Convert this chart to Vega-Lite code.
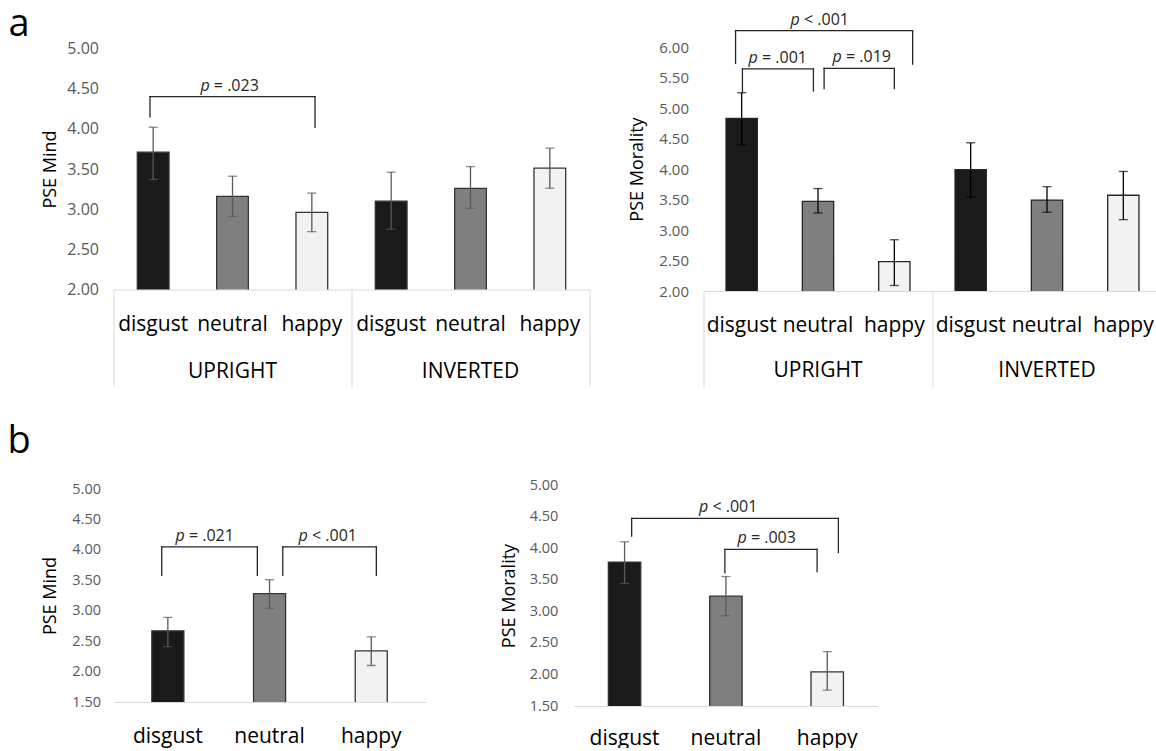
{
  "$schema": "https://vega.github.io/schema/vega-lite/v6.json",
  "padding": {"left": 7.5, "top": 5, "right": 0, "bottom": 0},
  "config": {
    "view": {"stroke": null},
    "font": "Open Sans",
    "axis": {"grid": false, "labelFont": "Open Sans", "titleFont": "Open Sans"},
    "axisY": {"labelOverlap": false}
  },
  "bounds": "flush",
  "spacing": 438,
  "datasets": {
    "aMind": [
      {"orientation": "UPRIGHT", "emotion": "disgust", "cond": "UPRIGHT disgust", "pse": 3.71, "lo": 3.37, "hi": 4.02},
      {"orientation": "UPRIGHT", "emotion": "neutral", "cond": "UPRIGHT neutral", "pse": 3.16, "lo": 2.91, "hi": 3.41},
      {"orientation": "UPRIGHT", "emotion": "happy", "cond": "UPRIGHT happy", "pse": 2.96, "lo": 2.72, "hi": 3.20},
      {"orientation": "INVERTED", "emotion": "disgust", "cond": "INVERTED disgust", "pse": 3.10, "lo": 2.75, "hi": 3.46},
      {"orientation": "INVERTED", "emotion": "neutral", "cond": "INVERTED neutral", "pse": 3.26, "lo": 3.01, "hi": 3.53},
      {"orientation": "INVERTED", "emotion": "happy", "cond": "INVERTED happy", "pse": 3.51, "lo": 3.26, "hi": 3.76}
    ],
    "aMoral": [
      {"orientation": "UPRIGHT", "emotion": "disgust", "cond": "UPRIGHT disgust", "pse": 4.83, "lo": 4.40, "hi": 5.25},
      {"orientation": "UPRIGHT", "emotion": "neutral", "cond": "UPRIGHT neutral", "pse": 3.47, "lo": 3.28, "hi": 3.68},
      {"orientation": "UPRIGHT", "emotion": "happy", "cond": "UPRIGHT happy", "pse": 2.48, "lo": 2.09, "hi": 2.84},
      {"orientation": "INVERTED", "emotion": "disgust", "cond": "INVERTED disgust", "pse": 3.99, "lo": 3.54, "hi": 4.43},
      {"orientation": "INVERTED", "emotion": "neutral", "cond": "INVERTED neutral", "pse": 3.49, "lo": 3.29, "hi": 3.71},
      {"orientation": "INVERTED", "emotion": "happy", "cond": "INVERTED happy", "pse": 3.57, "lo": 3.17, "hi": 3.96}
    ],
    "bMind": [
      {"emotion": "disgust", "pse": 2.67, "lo": 2.41, "hi": 2.89},
      {"emotion": "neutral", "pse": 3.28, "lo": 3.04, "hi": 3.51},
      {"emotion": "happy", "pse": 2.34, "lo": 2.10, "hi": 2.57}
    ],
    "bMoral": [
      {"emotion": "disgust", "pse": 3.78, "lo": 3.44, "hi": 4.10},
      {"emotion": "neutral", "pse": 3.24, "lo": 2.93, "hi": 3.55},
      {"emotion": "happy", "pse": 2.04, "lo": 1.75, "hi": 2.36}
    ],
    "aMindBr": [
      {"xl": 0.96, "xr": 3.04, "ytop": 4.40, "yl": 4.15, "yr": 4.02, "xm": 1.96, "stat": "= .023"}
    ],
    "aMoralBr": [
      {"xl": 0.92, "xr": 3.24, "ytop": 6.27, "yl": 5.73, "yr": 5.72, "xm": 2.02, "stat": "< .001"},
      {"xl": 1.01, "xr": 1.94, "ytop": 5.64, "yl": 5.25, "yr": 5.28, "xm": 1.47, "stat": "= .001"},
      {"xl": 2.08, "xr": 3.00, "ytop": 5.65, "yl": 5.32, "yr": 5.32, "xm": 2.57, "stat": "= .019"}
    ],
    "bMindBr": [
      {"xl": 0.94, "xr": 1.88, "ytop": 4.05, "yl": 3.58, "yr": 3.58, "xm": 1.36, "stat": "= .021"},
      {"xl": 2.13, "xr": 3.05, "ytop": 4.05, "yl": 3.58, "yr": 3.58, "xm": 2.57, "stat": "< .001"}
    ],
    "bMoralBr": [
      {"xl": 1.07, "xr": 3.11, "ytop": 4.47, "yl": 4.19, "yr": 3.93, "xm": 2.02, "stat": "< .001"},
      {"xl": 1.99, "xr": 2.90, "ytop": 3.98, "yl": 3.61, "yr": 3.63, "xm": 2.40, "stat": "= .003"}
    ]
  },
  "vconcat": [
    {
      "bounds": "flush",
      "center": true,
      "spacing": 114,
      "hconcat": [
        {
          "width": 476,
          "height": 241,
          "title": {"text": "a", "anchor": "start", "frame": "group", "fontSize": 38, "fontWeight": "normal", "font": "Open Sans", "color": "#000000", "dx": -105, "dy": 5, "offset": 2},
          "resolve": {"scale": {"x": "independent"}},
          "layer": [
            {
              "data": {"name": "aMind"},
              "encoding": {
                "x": {"field": "cond", "type": "nominal", "sort": null, "scale": {"paddingInner": 0, "paddingOuter": 0},
                  "axis": {"title": null, "ticks": false, "domain": true, "domainColor": "#d9d9d9", "domainWidth": 1, "labelFontSize": 21, "labelColor": "#000000", "labelPadding": 35, "labelBaseline": "middle", "labelAngle": 0, "labelExpr": "split(datum.label, ' ')[1]"}}
              },
              "layer": [
                {
                  "mark": {"type": "bar", "width": {"band": 0.4}, "stroke": "#333333", "strokeWidth": 1.3, "clip": true},
                  "encoding": {
                    "y": {"field": "pse", "type": "quantitative", "scale": {"domain": [2, 5], "nice": false, "zero": false},
                      "axis": {"title": "PSE Mind", "values": [2, 2.5, 3, 3.5, 4, 4.5, 5], "tickCount": 20, "format": ".2f", "labelOverlap": false, "ticks": false, "domain": false, "labelFontSize": 16, "labelColor": "#595959", "labelPadding": 15, "titleFontSize": 18, "titleFontWeight": "normal", "titleColor": "#000000", "titlePadding": 7}},
                    "color": {"field": "emotion", "type": "nominal", "scale": {"domain": ["disgust", "neutral", "happy"], "range": ["#1a1a1a", "#7f7f7f", "#f2f2f2"]}, "legend": null}
                  }
                },
                {
                  "mark": {"type": "rule", "color": "#595959", "strokeWidth": 1.3},
                  "encoding": {"y": {"field": "lo", "type": "quantitative", "scale": {"domain": [2, 5], "nice": false, "zero": false}}, "y2": {"field": "hi"}}
                },
                {
                  "mark": {"type": "tick", "color": "#595959", "size": 9, "thickness": 1.3},
                  "encoding": {"y": {"field": "lo", "type": "quantitative", "scale": {"domain": [2, 5], "nice": false, "zero": false}}}
                },
                {
                  "mark": {"type": "tick", "color": "#595959", "size": 9, "thickness": 1.3},
                  "encoding": {"y": {"field": "hi", "type": "quantitative", "scale": {"domain": [2, 5], "nice": false, "zero": false}}}
                }
              ]
            },
            {
              "data": {"name": "aMind"},
              "mark": {"type": "point", "opacity": 0},
              "encoding": {
                "x": {"field": "orientation", "type": "nominal", "sort": null, "scale": {"type": "band", "paddingInner": 0, "paddingOuter": 0},
                  "axis": {"orient": "bottom", "title": null, "domain": false, "ticks": true, "bandPosition": 1, "tickExtra": true, "tickSize": 97, "tickColor": "#d9d9d9", "tickWidth": 1, "labelFontSize": 21, "labelColor": "#000000", "labelPadding": -15, "labelBaseline": "middle", "labelAngle": 0}},
                "y": {"field": "pse", "type": "quantitative", "scale": {"domain": [2, 5], "nice": false, "zero": false}}
              }
            },
            {
              "data": {"name": "aMindBr"},
              "layer": [
                {"mark": {"type": "rule", "color": "#262626", "strokeWidth": 1.3, "strokeCap": "square"},
                  "encoding": {"x": {"field": "xl", "type": "quantitative", "scale": {"domain": [0.5, 6.5], "nice": false, "zero": false}, "axis": null},
                    "y": {"field": "ytop", "type": "quantitative", "scale": {"domain": [2, 5], "nice": false, "zero": false}}, "y2": {"field": "yl"}}},
                {"mark": {"type": "rule", "color": "#262626", "strokeWidth": 1.3, "strokeCap": "square"},
                  "encoding": {"x": {"field": "xr", "type": "quantitative", "scale": {"domain": [0.5, 6.5], "nice": false, "zero": false}, "axis": null},
                    "y": {"field": "ytop", "type": "quantitative", "scale": {"domain": [2, 5], "nice": false, "zero": false}}, "y2": {"field": "yr"}}},
                {"mark": {"type": "rule", "color": "#262626", "strokeWidth": 1.3, "strokeCap": "square"},
                  "encoding": {"x": {"field": "xl", "type": "quantitative", "scale": {"domain": [0.5, 6.5], "nice": false, "zero": false}, "axis": null}, "x2": {"field": "xr"},
                    "y": {"field": "ytop", "type": "quantitative", "scale": {"domain": [2, 5], "nice": false, "zero": false}}}},
                {"mark": {"type": "text", "text": "p", "fontStyle": "italic", "fontSize": 16, "align": "right", "baseline": "middle", "dx": -19.7, "dy": -11, "color": "#262626"},
                  "encoding": {"x": {"field": "xm", "type": "quantitative", "scale": {"domain": [0.5, 6.5], "nice": false, "zero": false}, "axis": null},
                    "y": {"field": "ytop", "type": "quantitative", "scale": {"domain": [2, 5], "nice": false, "zero": false}}}},
                {"mark": {"type": "text", "fontSize": 16, "align": "left", "baseline": "middle", "dx": -15.5, "dy": -11, "color": "#262626"},
                  "encoding": {"x": {"field": "xm", "type": "quantitative", "scale": {"domain": [0.5, 6.5], "nice": false, "zero": false}, "axis": null},
                    "y": {"field": "ytop", "type": "quantitative", "scale": {"domain": [2, 5], "nice": false, "zero": false}}, "text": {"field": "stat"}}}
              ]
            }
          ]
        },
        {
          "width": 458,
          "height": 244,
          "resolve": {"scale": {"x": "independent"}},
          "layer": [
            {
              "data": {"name": "aMoral"},
              "encoding": {
                "x": {"field": "cond", "type": "nominal", "sort": null, "scale": {"paddingInner": 0, "paddingOuter": 0},
                  "axis": {"title": null, "ticks": false, "domain": true, "domainColor": "#d9d9d9", "domainWidth": 1, "labelFontSize": 21, "labelColor": "#000000", "labelPadding": 34, "labelBaseline": "middle", "labelAngle": 0, "labelExpr": "split(datum.label, ' ')[1]"}}
              },
              "layer": [
                {
                  "mark": {"type": "bar", "width": {"band": 0.41}, "stroke": "#262626", "strokeWidth": 1.3, "clip": true},
                  "encoding": {
                    "y": {"field": "pse", "type": "quantitative", "scale": {"domain": [2, 6], "nice": false, "zero": false},
                      "axis": {"title": "PSE Morality", "values": [2, 2.5, 3, 3.5, 4, 4.5, 5, 5.5, 6], "tickCount": 20, "format": ".2f", "labelOverlap": false, "ticks": false, "domain": false, "labelFontSize": 15, "labelColor": "#595959", "labelPadding": 15, "titleFontSize": 18, "titleFontWeight": "normal", "titleColor": "#000000", "titlePadding": 12}},
                    "color": {"field": "emotion", "type": "nominal", "scale": {"domain": ["disgust", "neutral", "happy"], "range": ["#1a1a1a", "#7f7f7f", "#f2f2f2"]}, "legend": null}
                  }
                },
                {
                  "mark": {"type": "rule", "color": "#000000", "strokeWidth": 1.3},
                  "encoding": {"y": {"field": "lo", "type": "quantitative", "scale": {"domain": [2, 6], "nice": false, "zero": false}}, "y2": {"field": "hi"}}
                },
                {
                  "mark": {"type": "tick", "color": "#000000", "size": 9, "thickness": 1.3},
                  "encoding": {"y": {"field": "lo", "type": "quantitative", "scale": {"domain": [2, 6], "nice": false, "zero": false}}}
                },
                {
                  "mark": {"type": "tick", "color": "#000000", "size": 9, "thickness": 1.3},
                  "encoding": {"y": {"field": "hi", "type": "quantitative", "scale": {"domain": [2, 6], "nice": false, "zero": false}}}
                }
              ]
            },
            {
              "data": {"name": "aMoral"},
              "mark": {"type": "point", "opacity": 0},
              "encoding": {
                "x": {"field": "orientation", "type": "nominal", "sort": null, "scale": {"type": "band", "paddingInner": 0, "paddingOuter": 0},
                  "axis": {"orient": "bottom", "title": null, "domain": false, "ticks": true, "bandPosition": 1, "tickExtra": true, "tickSize": 96, "tickColor": "#d9d9d9", "tickWidth": 1, "labelFontSize": 21, "labelColor": "#000000", "labelPadding": -17, "labelBaseline": "middle", "labelAngle": 0}},
                "y": {"field": "pse", "type": "quantitative", "scale": {"domain": [2, 6], "nice": false, "zero": false}}
              }
            },
            {
              "data": {"name": "aMoralBr"},
              "layer": [
                {"mark": {"type": "rule", "color": "#262626", "strokeWidth": 1.3, "strokeCap": "square"},
                  "encoding": {"x": {"field": "xl", "type": "quantitative", "scale": {"domain": [0.5, 6.5], "nice": false, "zero": false}, "axis": null},
                    "y": {"field": "ytop", "type": "quantitative", "scale": {"domain": [2, 6], "nice": false, "zero": false}}, "y2": {"field": "yl"}}},
                {"mark": {"type": "rule", "color": "#262626", "strokeWidth": 1.3, "strokeCap": "square"},
                  "encoding": {"x": {"field": "xr", "type": "quantitative", "scale": {"domain": [0.5, 6.5], "nice": false, "zero": false}, "axis": null},
                    "y": {"field": "ytop", "type": "quantitative", "scale": {"domain": [2, 6], "nice": false, "zero": false}}, "y2": {"field": "yr"}}},
                {"mark": {"type": "rule", "color": "#262626", "strokeWidth": 1.3, "strokeCap": "square"},
                  "encoding": {"x": {"field": "xl", "type": "quantitative", "scale": {"domain": [0.5, 6.5], "nice": false, "zero": false}, "axis": null}, "x2": {"field": "xr"},
                    "y": {"field": "ytop", "type": "quantitative", "scale": {"domain": [2, 6], "nice": false, "zero": false}}}},
                {"mark": {"type": "text", "text": "p", "fontStyle": "italic", "fontSize": 16, "align": "right", "baseline": "middle", "dx": -19.7, "dy": -11, "color": "#262626"},
                  "encoding": {"x": {"field": "xm", "type": "quantitative", "scale": {"domain": [0.5, 6.5], "nice": false, "zero": false}, "axis": null},
                    "y": {"field": "ytop", "type": "quantitative", "scale": {"domain": [2, 6], "nice": false, "zero": false}}}},
                {"mark": {"type": "text", "fontSize": 16, "align": "left", "baseline": "middle", "dx": -15.5, "dy": -11, "color": "#262626"},
                  "encoding": {"x": {"field": "xm", "type": "quantitative", "scale": {"domain": [0.5, 6.5], "nice": false, "zero": false}, "axis": null},
                    "y": {"field": "ytop", "type": "quantitative", "scale": {"domain": [2, 6], "nice": false, "zero": false}}, "text": {"field": "stat"}}}
              ]
            }
          ]
        }
      ]
    },
    {
      "bounds": "flush",
      "center": true,
      "spacing": 147.4,
      "hconcat": [
        {
          "width": 312.1,
          "height": 213,
          "title": {"text": "b", "anchor": "start", "frame": "group", "fontSize": 38, "fontWeight": "normal", "font": "Open Sans", "color": "#000000", "dx": -106, "dy": -18, "offset": 2},
          "resolve": {"scale": {"x": "independent"}},
          "layer": [
            {
              "data": {"name": "bMind"},
              "encoding": {
                "x": {"field": "emotion", "type": "nominal", "sort": null, "scale": {"paddingInner": 0, "paddingOuter": 0.0344},
                  "axis": {"title": null, "ticks": false, "domain": true, "domainColor": "#d9d9d9", "domainWidth": 1, "labelFontSize": 21, "labelColor": "#000000", "labelPadding": 34, "labelBaseline": "middle", "labelAngle": 0}}
              },
              "layer": [
                {
                  "mark": {"type": "bar", "width": {"band": 0.315}, "stroke": "#333333", "strokeWidth": 1.3, "clip": true},
                  "encoding": {
                    "y": {"field": "pse", "type": "quantitative", "scale": {"domain": [1.5, 5], "nice": false, "zero": false},
                      "axis": {"title": "PSE Mind", "values": [1.5, 2, 2.5, 3, 3.5, 4, 4.5, 5], "tickCount": 20, "format": ".2f", "labelOverlap": false, "ticks": false, "domain": false, "labelFontSize": 14.5, "labelColor": "#595959", "labelPadding": 13, "titleFontSize": 18, "titleFontWeight": "normal", "titleColor": "#000000", "titlePadding": 12.5}},
                    "color": {"field": "emotion", "type": "nominal", "scale": {"domain": ["disgust", "neutral", "happy"], "range": ["#1a1a1a", "#7f7f7f", "#f2f2f2"]}, "legend": null}
                  }
                },
                {
                  "mark": {"type": "rule", "color": "#595959", "strokeWidth": 1.3},
                  "encoding": {"y": {"field": "lo", "type": "quantitative", "scale": {"domain": [1.5, 5], "nice": false, "zero": false}}, "y2": {"field": "hi"}}
                },
                {
                  "mark": {"type": "tick", "color": "#595959", "size": 9, "thickness": 1.3},
                  "encoding": {"y": {"field": "lo", "type": "quantitative", "scale": {"domain": [1.5, 5], "nice": false, "zero": false}}}
                },
                {
                  "mark": {"type": "tick", "color": "#595959", "size": 9, "thickness": 1.3},
                  "encoding": {"y": {"field": "hi", "type": "quantitative", "scale": {"domain": [1.5, 5], "nice": false, "zero": false}}}
                }
              ]
            },
            {
              "data": {"name": "bMindBr"},
              "layer": [
                {"mark": {"type": "rule", "color": "#262626", "strokeWidth": 1.3, "strokeCap": "square"},
                  "encoding": {"x": {"field": "xl", "type": "quantitative", "scale": {"domain": [0.4656, 3.5344], "nice": false, "zero": false}, "axis": null},
                    "y": {"field": "ytop", "type": "quantitative", "scale": {"domain": [1.5, 5], "nice": false, "zero": false}}, "y2": {"field": "yl"}}},
                {"mark": {"type": "rule", "color": "#262626", "strokeWidth": 1.3, "strokeCap": "square"},
                  "encoding": {"x": {"field": "xr", "type": "quantitative", "scale": {"domain": [0.4656, 3.5344], "nice": false, "zero": false}, "axis": null},
                    "y": {"field": "ytop", "type": "quantitative", "scale": {"domain": [1.5, 5], "nice": false, "zero": false}}, "y2": {"field": "yr"}}},
                {"mark": {"type": "rule", "color": "#262626", "strokeWidth": 1.3, "strokeCap": "square"},
                  "encoding": {"x": {"field": "xl", "type": "quantitative", "scale": {"domain": [0.4656, 3.5344], "nice": false, "zero": false}, "axis": null}, "x2": {"field": "xr"},
                    "y": {"field": "ytop", "type": "quantitative", "scale": {"domain": [1.5, 5], "nice": false, "zero": false}}}},
                {"mark": {"type": "text", "text": "p", "fontStyle": "italic", "fontSize": 16, "align": "right", "baseline": "middle", "dx": -19.7, "dy": -11, "color": "#262626"},
                  "encoding": {"x": {"field": "xm", "type": "quantitative", "scale": {"domain": [0.4656, 3.5344], "nice": false, "zero": false}, "axis": null},
                    "y": {"field": "ytop", "type": "quantitative", "scale": {"domain": [1.5, 5], "nice": false, "zero": false}}}},
                {"mark": {"type": "text", "fontSize": 16, "align": "left", "baseline": "middle", "dx": -15.5, "dy": -11, "color": "#262626"},
                  "encoding": {"x": {"field": "xm", "type": "quantitative", "scale": {"domain": [0.4656, 3.5344], "nice": false, "zero": false}, "axis": null},
                    "y": {"field": "ytop", "type": "quantitative", "scale": {"domain": [1.5, 5], "nice": false, "zero": false}}, "text": {"field": "stat"}}}
              ]
            }
          ]
        },
        {
          "width": 304,
          "height": 221,
          "resolve": {"scale": {"x": "independent"}},
          "layer": [
            {
              "data": {"name": "bMoral"},
              "encoding": {
                "x": {"field": "emotion", "type": "nominal", "sort": null, "scale": {"paddingInner": 0, "paddingOuter": 0},
                  "axis": {"title": null, "ticks": false, "domain": true, "domainColor": "#d9d9d9", "domainWidth": 1, "labelFontSize": 21, "labelColor": "#000000", "labelPadding": 32, "labelBaseline": "middle", "labelAngle": 0}}
              },
              "layer": [
                {
                  "mark": {"type": "bar", "width": {"band": 0.32}, "stroke": "#333333", "strokeWidth": 1.3, "clip": true},
                  "encoding": {
                    "y": {"field": "pse", "type": "quantitative", "scale": {"domain": [1.5, 5], "nice": false, "zero": false},
                      "axis": {"title": "PSE Morality", "values": [1.5, 2, 2.5, 3, 3.5, 4, 4.5, 5], "tickCount": 20, "format": ".2f", "labelOverlap": false, "ticks": false, "domain": false, "labelFontSize": 14.5, "labelColor": "#595959", "labelPadding": 16, "titleFontSize": 18, "titleFontWeight": "normal", "titleColor": "#000000", "titlePadding": 11}},
                    "color": {"field": "emotion", "type": "nominal", "scale": {"domain": ["disgust", "neutral", "happy"], "range": ["#1a1a1a", "#7f7f7f", "#f2f2f2"]}, "legend": null}
                  }
                },
                {
                  "mark": {"type": "rule", "color": "#595959", "strokeWidth": 1.3},
                  "encoding": {"y": {"field": "lo", "type": "quantitative", "scale": {"domain": [1.5, 5], "nice": false, "zero": false}}, "y2": {"field": "hi"}}
                },
                {
                  "mark": {"type": "tick", "color": "#595959", "size": 9, "thickness": 1.3},
                  "encoding": {"y": {"field": "lo", "type": "quantitative", "scale": {"domain": [1.5, 5], "nice": false, "zero": false}}}
                },
                {
                  "mark": {"type": "tick", "color": "#595959", "size": 9, "thickness": 1.3},
                  "encoding": {"y": {"field": "hi", "type": "quantitative", "scale": {"domain": [1.5, 5], "nice": false, "zero": false}}}
                }
              ]
            },
            {
              "data": {"name": "bMoralBr"},
              "layer": [
                {"mark": {"type": "rule", "color": "#262626", "strokeWidth": 1.3, "strokeCap": "square"},
                  "encoding": {"x": {"field": "xl", "type": "quantitative", "scale": {"domain": [0.5, 3.5], "nice": false, "zero": false}, "axis": null},
                    "y": {"field": "ytop", "type": "quantitative", "scale": {"domain": [1.5, 5], "nice": false, "zero": false}}, "y2": {"field": "yl"}}},
                {"mark": {"type": "rule", "color": "#262626", "strokeWidth": 1.3, "strokeCap": "square"},
                  "encoding": {"x": {"field": "xr", "type": "quantitative", "scale": {"domain": [0.5, 3.5], "nice": false, "zero": false}, "axis": null},
                    "y": {"field": "ytop", "type": "quantitative", "scale": {"domain": [1.5, 5], "nice": false, "zero": false}}, "y2": {"field": "yr"}}},
                {"mark": {"type": "rule", "color": "#262626", "strokeWidth": 1.3, "strokeCap": "square"},
                  "encoding": {"x": {"field": "xl", "type": "quantitative", "scale": {"domain": [0.5, 3.5], "nice": false, "zero": false}, "axis": null}, "x2": {"field": "xr"},
                    "y": {"field": "ytop", "type": "quantitative", "scale": {"domain": [1.5, 5], "nice": false, "zero": false}}}},
                {"mark": {"type": "text", "text": "p", "fontStyle": "italic", "fontSize": 16, "align": "right", "baseline": "middle", "dx": -19.7, "dy": -11, "color": "#262626"},
                  "encoding": {"x": {"field": "xm", "type": "quantitative", "scale": {"domain": [0.5, 3.5], "nice": false, "zero": false}, "axis": null},
                    "y": {"field": "ytop", "type": "quantitative", "scale": {"domain": [1.5, 5], "nice": false, "zero": false}}}},
                {"mark": {"type": "text", "fontSize": 16, "align": "left", "baseline": "middle", "dx": -15.5, "dy": -11, "color": "#262626"},
                  "encoding": {"x": {"field": "xm", "type": "quantitative", "scale": {"domain": [0.5, 3.5], "nice": false, "zero": false}, "axis": null},
                    "y": {"field": "ytop", "type": "quantitative", "scale": {"domain": [1.5, 5], "nice": false, "zero": false}}, "text": {"field": "stat"}}}
              ]
            }
          ]
        }
      ]
    }
  ]
}
